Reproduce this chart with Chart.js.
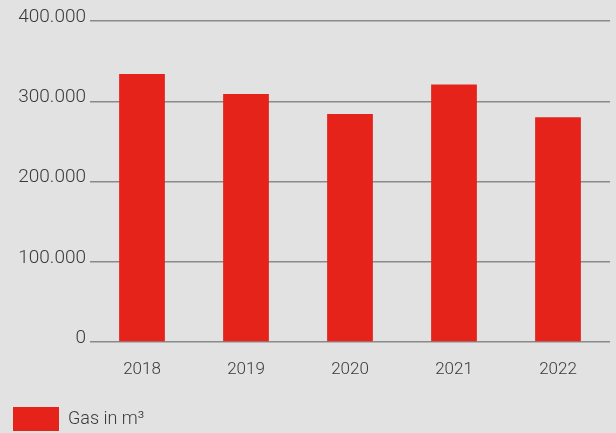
<!DOCTYPE html>
<html>
<head>
<meta charset="utf-8">
<script src="https://cdn.jsdelivr.net/npm/chart.js@4"></script>
<style>
  html, body { margin: 0; padding: 0; background: #e2e2e2; }
  #wrap { width: 616px; height: 433px; position: relative; }
</style>
</head>
<body>
<div id="wrap"><canvas id="gasChart"></canvas></div>
<script>
const years = ['2018', '2019', '2020', '2021', '2022'];
const gasValues = [334000, 309000, 284000, 321000, 280000];
const yTicks = [0, 100000, 200000, 300000, 400000];
const seriesLabel = 'Gas in m\u00B3';

document.addEventListener('DOMContentLoaded', () => {
  renderGasChart();
});

function renderGasChart() {
  const ctx = document.getElementById('gasChart').getContext('2d');
  const textColor = '#3a3a3a';
  const font = 'Roboto';

  new Chart(ctx, {
    type: 'bar',
    data: {
      labels: years,
      datasets: [{
        label: seriesLabel,
        data: gasValues,
        backgroundColor: '#e5231b',
        borderWidth: 0,
        barPercentage: 0.44,
        categoryPercentage: 1
      }]
    },
    options: {
      responsive: true,
      maintainAspectRatio: false,
      animation: false,
      layout: { padding: { left: 3, right: 6, top: 21, bottom: -8 } },
      plugins: {
        tooltip: { enabled: false },
        legend: {
          position: 'bottom',
          align: 'start',
          labels: {
            boxWidth: 46,
            boxHeight: 24,
            color: textColor,
            font: { family: font, size: 18, weight: 300 },
            padding: 10
          }
        }
      },
      scales: {
        x: {
          grid: { display: false },
          border: { display: false },
          ticks: {
            color: textColor,
            font: { family: font, size: 17, weight: 300 },
            padding: 10
          },
          afterFit: scale => { scale.height = 55; }
        },
        y: {
          min: 0,
          max: 400000,
          afterBuildTicks: scale => {
            scale.ticks = yTicks.map(v => ({ value: v }));
          },
          grid: { color: '#8a8a8a', lineWidth: 1.5, drawTicks: false },
          border: { display: false },
          ticks: {
            color: textColor,
            font: { family: font, size: 19, weight: 300 },
            padding: 4,
            labelOffset: -4,
            callback: value => value.toLocaleString('de-DE')
          },
          afterFit: scale => { scale.width = 87; }
        }
      }
    }
  });
}
</script>
</body>
</html>
